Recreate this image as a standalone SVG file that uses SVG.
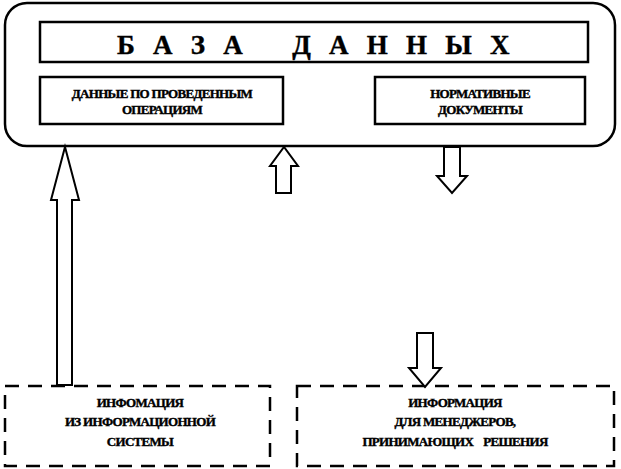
<svg xmlns="http://www.w3.org/2000/svg" width="621" height="469" viewBox="0 0 621 469">
<style>
.b{fill:#fff;stroke:#000;stroke-width:2.5}
.d{fill:none;stroke:#000;stroke-width:2.5;stroke-dasharray:14,9}
.a{fill:#fff;stroke:#000;stroke-width:2}
text{font-family:"Liberation Serif","DejaVu Serif",serif;font-weight:bold;text-anchor:middle;fill:#000;stroke:#000;stroke-width:0.4}
.s{font-size:13px;letter-spacing:-0.7px}
</style>
<rect width="621" height="469" fill="#fff"/>
<g id="db"><rect class="b" x="5" y="3" width="610" height="143" rx="22"/></g>
<g id="title"><rect class="b" x="40" y="22" width="548" height="40"/>
<text x="313" y="54" font-size="27" xml:space="preserve" letter-spacing="-0.5">Б   А   З   А        Д   А   Н   Н   Ы   Х</text></g>
<g id="ops"><rect class="b" x="40" y="77" width="243" height="47"/>
<text class="s" x="162" y="98">ДАННЫЕ ПО ПРОВЕДЕННЫМ</text><text class="s" x="162" y="114">ОПЕРАЦИЯМ</text></g>
<g id="norm"><rect class="b" x="375" y="77" width="210" height="47"/>
<text class="s" x="480" y="98">НОРМАТИВНЫЕ</text><text class="s" x="480" y="114">ДОКУМЕНТЫ</text></g>
<g id="src"><rect class="d" x="5" y="386" width="265" height="80"/>
<text class="s" x="140" y="407">ИНФОМАЦИЯ</text><text class="s" x="140" y="426">ИЗ ИНФОРМАЦИОННОЙ</text><text class="s" x="140" y="446">СИСТЕМЫ</text></g>
<g id="mgr"><rect class="d" x="297" y="386" width="317" height="80"/>
<text class="s" x="455" y="407">ИНФОРМАЦИЯ</text><text class="s" x="455" y="426">ДЛЯ МЕНЕДЖЕРОВ,</text><text class="s" x="455" y="446" xml:space="preserve">ПРИНИМАЮЩИХ    РЕШЕНИЯ</text></g>
<g id="connectors">
<polygon class="a" points="57,385 57,200 51,200 65,147 79,200 72,200 72,385"/>
<polygon class="a" points="276,193 276,166 270,166 284,147 298,166 291,166 291,193"/>
<polygon class="a" points="444,147 444,176 437,176 452,193 467,176 460,176 460,147"/>
<polygon class="a" points="417,333 417,368 409,368 425,387 441,368 433,368 433,333"/>
</g>
</svg>
